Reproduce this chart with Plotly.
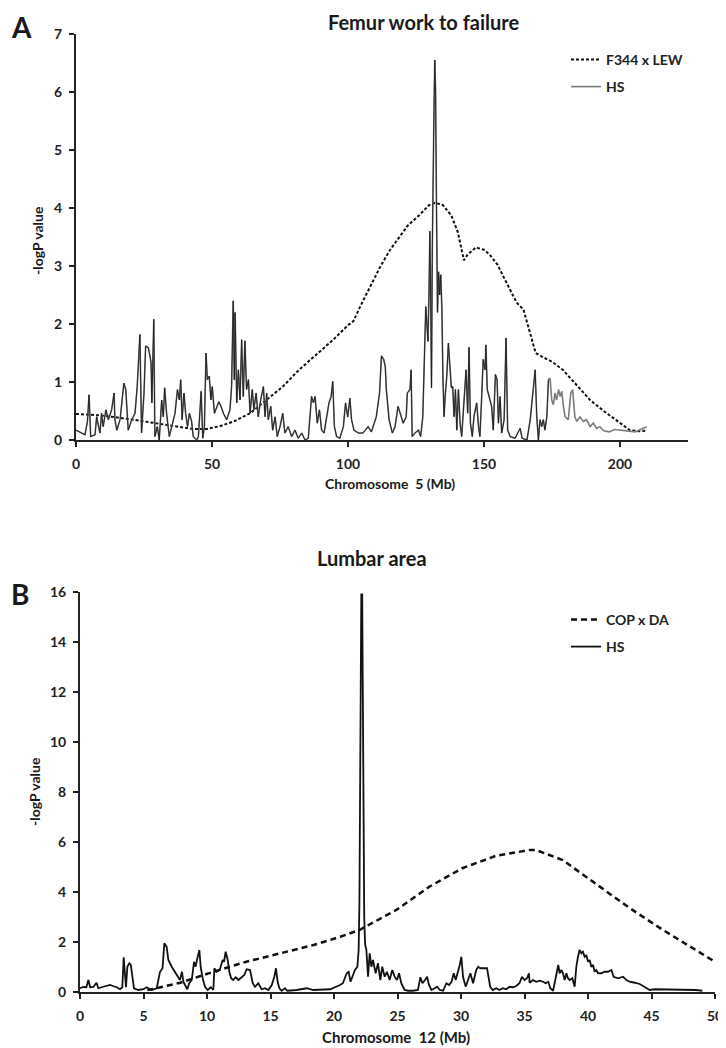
import plotly.graph_objects as go

FONT = "Lato"

# ---------------- Panel A data: Chromosome 5 ----------------
hs5_x = [0, 1.5, 3.3, 4.2, 4.8, 5.4, 7, 7.6, 8.8, 9.4, 10, 11, 11.9, 13.1, 14, 14.3, 15, 16.2, 17.6, 18.3,
         18.9, 19.2, 20.5, 21.7, 22.5, 23.5, 24.1, 25, 25.6, 26.6, 27.2, 27.6, 27.9, 28.6, 29, 29.9, 30.6,
         31.5, 32.1, 32.6, 33.3, 34.3, 35.2, 36.4, 37.3, 38, 38.5, 39, 39.7, 40.3, 41, 41.7, 42.5, 43.1,
         44.4, 45, 46, 46.6, 47.2, 47.8, 48.3, 49, 49.6, 50.1, 50.9, 51.7, 52.5, 53.3, 54.2, 55.4, 56.6,
         57.2, 57.8, 58.2, 58.5, 59.1, 59.7, 60.3, 60.9, 61.5, 62.1, 62.7, 63.4, 64, 64.8, 65.4, 66.2, 67,
         67.9, 68.9, 69.5, 70.1, 70.7, 71.6, 72.3, 73.2, 74, 75, 76, 76.8, 78, 79.3, 80.5, 81.7, 83, 84.2,
         85.4, 86.6, 87.3, 87.9, 88.7, 89.5, 90.3, 91.2, 92.2, 93, 93.8, 94.4, 95, 95.8, 97, 98.3, 99.1,
         99.9, 100.7, 101.3, 102.2, 103.8, 105.5, 107.4, 108.6, 110.4, 111.6, 112.3, 113.1, 113.7, 114.1,
         115.1, 116.3, 117.3, 118.4, 119.1, 120.3, 121.4, 121.8, 122.8, 123.2, 123.6, 124.6, 125.9, 126.7,
         127.5, 128.1, 128.6, 129.0, 129.4, 129.8, 130.1, 130.4, 130.7, 131.0, 131.3, 131.6, 131.9, 132.2,
         132.5, 132.9, 133.3, 133.7, 134.1, 134.5, 134.9, 135.3, 135.8, 136.3, 136.9, 137.5, 138.0, 138.5,
         139.0, 139.5, 140.0, 140.6, 141.2, 141.8, 142.4, 143.4, 144.0, 144.5, 145.0, 145.7, 146.3, 147.3,
         148.0, 148.5, 149.1, 149.7, 150.4, 150.7, 151.2, 151.9, 152.8, 153.4, 154.2, 154.8, 155.3, 155.9,
         156.5, 157.4, 158.1, 158.7, 159.6, 161.4, 162.0, 163.3, 164.0, 165.8, 167.0, 167.6, 168.2, 168.8,
         169.4, 170.0, 170.6, 171.2, 171.8, 172.4, 173.1, 173.7, 174.3, 174.9, 175.5, 176.1, 176.7, 177.4,
         178.0, 178.6, 179.2, 179.8, 181.0, 181.9, 182.6, 183.4, 184.1, 185.3, 186.5, 187.7, 189.0, 190.2,
         191.4, 192.6, 194, 196, 198, 200.7, 203, 205.6, 207.5, 209.8]
hs5_y = [0.17, 0.14, 0.09, 0.32, 0.78, 0.06, 0.09, 0.40, 0.12, 0.46, 0.23, 0.52, 0.35, 0.52, 0.81, 0.35, 0.17,
         0.35, 0.98, 0.87, 0.46, 0.17, 0.35, 0.46, 0.92, 1.82, 0.12, 0.81, 1.62, 1.59, 1.45, 1.33, 0.64, 2.08,
         0.06, 0.23, 0.0, 0.69, 0.40, 0.90, 0.46, 0.06, 0.23, 0.46, 0.87, 0.69, 1.04, 0.35, 0.81, 0.46, 0.23,
         0.46, 0.32, 0.06, 0.0, 0.06, 0.84, 0.03, 0.23, 1.50, 1.04, 1.10, 0.69, 0.92, 0.46, 0.58, 0.66, 0.58,
         0.46, 0.35, 0.52, 0.92, 2.40, 1.04, 2.20, 0.64, 1.21, 0.69, 1.73, 0.75, 1.71, 0.87, 1.04, 0.46, 0.87,
         0.52, 0.81, 0.40, 0.69, 0.92, 0.40, 0.81, 0.35, 0.58, 0.17, 0.40, 0.06, 0.23, 0.46, 0.12, 0.23, 0.06,
         0.17, 0.03, 0.12, 0.0, 0.03, 0.75, 0.64, 0.75, 0.29, 0.52, 0.17, 0.12, 0.40, 0.64, 0.75, 1.01, 0.23,
         0.06, 0.03, 0.23, 0.64, 0.40, 0.72, 0.35, 0.17, 0.12, 0.12, 0.23, 0.14, 0.40, 0.81, 1.45, 1.39, 1.27,
         0.87, 0.35, 0.12, 0.23, 0.58, 0.46, 0.29, 0.40, 0.81, 0.87, 1.21, 0.06, 0.12, 0.17, 0.06, 0.40, 1.50,
         2.30, 2.00, 1.70, 2.60, 3.60, 2.40, 0.90, 3.30, 5.30, 5.65, 6.55, 6.00, 4.20, 2.20, 2.90, 2.50, 2.85,
         2.30, 1.09, 0.40, 0.80, 1.09, 1.67, 1.21, 0.90, 0.92, 0.40, 0.87, 0.17, 0.87, 0.29, 0.06, 0.46, 1.21,
         0.46, 1.60, 0.29, 0.06, 0.40, 0.64, 0.23, 0.06, 0.69, 1.39, 1.21, 1.64, 0.87, 0.75, 0.58, 0.17, 1.13,
         1.04, 0.29, 0.75, 0.12, 0.35, 1.76, 0.17, 0.06, 0.03, 0.09, 0.20, 0.03, 0.0, 0.35, 0.64, 0.98, 1.21,
         0.40, 0.0, 0.35, 0.23, 0.35, 0.17, 0.40, 1.04, 1.07, 0.69, 0.61, 0.81, 0.69, 0.87, 0.75, 0.84, 0.58,
         0.40, 0.35, 0.81, 0.87, 0.40, 0.32, 0.40, 0.32, 0.35, 0.23, 0.29, 0.20, 0.23, 0.16, 0.14, 0.18, 0.17,
         0.15, 0.14, 0.18, 0.23]

f344_x = [0, 10, 21, 33, 43, 48, 53, 58, 64, 70, 76, 82, 88.5, 94.6, 100, 102, 105, 108, 112, 115.5, 118.5,
          122, 126.3, 129.8, 132, 134.9, 138, 140.4, 142.6, 144, 147, 150, 152, 155, 157, 160, 162, 164.5,
          167, 169, 172, 175, 179, 184, 189, 194, 198.5, 203.6, 207, 209.5]
f344_y = [0.45, 0.42, 0.35, 0.26, 0.19, 0.19, 0.24, 0.32, 0.46, 0.69, 0.92, 1.21, 1.47, 1.73, 1.98, 2.05, 2.35,
          2.62, 3.00, 3.28, 3.48, 3.70, 3.88, 4.05, 4.09, 4.05, 3.87, 3.58, 3.10, 3.20, 3.32, 3.28, 3.20, 3.02,
          2.83, 2.55, 2.37, 2.25, 1.85, 1.50, 1.42, 1.35, 1.21, 0.95, 0.69, 0.50, 0.35, 0.17, 0.15, 0.16]

markers5_x = [6.3, 42.6, 76.4, 100.3, 124.6, 137, 143, 151.5, 161.8, 172]

# ---------------- Panel B data: Chromosome 12 ----------------
hs12_x = [0, 0.26, 0.5, 0.66, 0.8, 1.05, 1.3, 1.44, 1.84, 2.36, 2.6, 2.9, 3.15, 3.33, 3.44, 3.54, 3.62, 3.73,
          3.88, 4.0, 4.15, 4.25, 4.6, 5.0, 5.25, 5.64, 6.04, 6.3, 6.5, 6.64, 6.82, 6.96, 7.22, 7.48, 7.7, 7.87,
          8.03, 8.14, 8.27, 8.45, 8.6, 8.8, 8.98, 9.1, 9.24, 9.4, 9.5, 9.66, 9.84, 10.05, 10.3, 10.5, 10.58,
          10.76, 11.0, 11.23, 11.34, 11.47, 11.63, 11.76, 11.9, 12.07, 12.26, 12.47, 12.73, 12.94, 13.12,
          13.39, 13.6, 13.78, 14.04, 14.3, 14.57, 14.83, 15.1, 15.3, 15.43, 15.56, 15.7, 15.88, 16.14, 16.33,
          17.06, 17.85, 18.37, 19.7, 20.47, 20.7, 21.0, 21.15, 21.3, 21.47, 21.65, 21.84, 21.94, 22.0, 22.08,
          22.15, 22.22, 22.3, 22.38, 22.45, 22.55, 22.68, 22.81, 22.94, 23.07, 23.28, 23.46, 23.65, 23.8,
          23.99, 24.17, 24.38, 24.59, 24.78, 24.96, 25.12, 25.3, 25.56, 25.83, 26.22, 26.61, 26.8, 26.96,
          27.17, 27.33, 27.48, 27.67, 27.93, 28.12, 28.33, 28.59, 28.85, 29.06, 29.25, 29.43, 29.58, 29.77,
          29.9, 30.03, 30.16, 30.37, 30.56, 30.74, 30.95, 31.2, 31.35, 31.53, 31.79, 32.05, 32.3, 32.5,
          32.77, 33.03, 33.3, 33.56, 33.82, 34.08, 34.35, 34.6, 34.8, 35.0, 35.2, 35.35, 35.4, 35.67, 35.93,
          36.2, 36.46, 36.67, 36.88, 37.03, 37.25, 37.4, 37.56, 37.66, 37.77, 37.9, 38.03, 38.16, 38.3,
          38.42, 38.56, 38.77, 38.95, 39.08, 39.21, 39.34, 39.48, 39.6, 39.74, 39.87, 40.0, 40.13, 40.26,
          40.4, 40.52, 40.65, 40.79, 41.05, 41.31, 41.57, 41.84, 42.02, 42.37, 42.76, 43.02, 43.28, 43.68,
          44.07, 44.33, 44.6, 44.86, 45.25, 45.9, 47.2, 48.5, 49.0]
hs12_y = [0.15, 0.20, 0.19, 0.48, 0.19, 0.20, 0.37, 0.15, 0.21, 0.28, 0.24, 0.19, 0.11, 0.19, 1.39, 0.61, 0.19,
          1.01, 1.15, 1.08, 0.48, 0.15, 0.08, 0.11, 0.19, 0.08, 0.15, 0.81, 0.95, 1.95, 1.81, 1.28, 1.01, 0.81,
          0.61, 0.48, 0.81, 0.41, 0.28, 0.11, 0.35, 0.48, 1.21, 1.01, 1.35, 1.68, 1.01, 0.55, 0.21, 0.08, 0.19,
          0.08, 0.95, 0.81, 0.88, 1.28, 1.21, 1.61, 1.28, 0.81, 0.55, 0.48, 0.59, 0.48, 0.59, 0.68, 0.91, 0.88,
          0.35, 0.21, 0.35, 0.11, 0.15, 0.08, 0.28, 0.61, 0.95, 0.41, 0.15, 0.05, 0.15, 0.05, 0.08, 0.15, 0.08,
          0.11, 0.28, 0.35, 0.75, 0.81, 0.41, 0.68, 0.88, 1.01, 1.68, 3.5, 9.0, 15.9, 15.9, 9.0, 3.0, 1.9, 1.68,
          0.61, 1.55, 1.01, 1.28, 0.75, 1.15, 0.48, 1.01, 0.61, 0.81, 0.48, 0.88, 0.61, 0.48, 0.75, 0.35, 0.08,
          0.05, 0.05, 0.08, 0.59, 0.35, 0.48, 0.61, 0.28, 0.08, 0.15, 0.21, 0.08, 0.05, 0.35, 0.28, 0.41, 0.75,
          0.48, 0.81, 1.08, 1.41, 0.61, 0.21, 0.48, 0.75, 0.35, 0.88, 1.01, 0.95, 0.95, 0.95, 0.21, 0.08, 0.15,
          0.08, 0.15, 0.11, 0.21, 0.19, 0.24, 0.35, 0.61, 0.48, 0.55, 0.75, 0.37, 0.48, 0.41, 0.45, 0.41, 0.35,
          0.41, 0.15, 0.05, 0.48, 0.88, 1.08, 0.75, 0.88, 0.75, 0.48, 0.75, 0.55, 0.48, 0.55, 0.21, 1.01, 1.41,
          1.68, 1.55, 1.61, 1.41, 1.48, 1.21, 1.28, 1.01, 1.08, 0.81, 0.88, 0.75, 0.75, 0.81, 0.81, 0.88, 0.61,
          0.55, 0.61, 0.48, 0.41, 0.37, 0.32, 0.24, 0.15, 0.08, 0.11, 0.11, 0.08, 0.08, 0.05]

cop_x = [5.3, 5.64, 7.9, 10.5, 13.1, 15.7, 18.4, 20.5, 22.0, 24.9, 27.5, 30.1, 32.7, 35.4, 35.9, 38.0, 40.6,
         43.3, 45.9, 48.5, 50.0]
cop_y = [0.08, 0.11, 0.37, 0.81, 1.21, 1.55, 1.88, 2.21, 2.48, 3.28, 4.21, 4.95, 5.44, 5.68, 5.68, 5.28, 4.35,
         3.35, 2.48, 1.68, 1.21]

markers12_x = [5.3, 15.4, 34.3, 44.5]

# The page body has an 8px margin, so the figure is placed 8px in from the top-left of the window.
OFF = 8
W, H = 726 - OFF, 1048 - OFF


def px(x):
    return (x - OFF) / W


def py(y):
    return 1 - (y - OFF) / H


fig = go.Figure()

# ---- Panel A traces ----
fig.add_trace(go.Scatter(x=f344_x, y=f344_y, mode="lines", name="F344 x LEW",
                         line=dict(color="#111111", width=2, dash="3px,2px"),
                         xaxis="x", yaxis="y", legend="legend", cliponaxis=False))
fig.add_trace(go.Scatter(x=hs5_x, y=hs5_y, mode="lines", name="HS",
                         line=dict(color="#7c7c7c", width=1.6),
                         xaxis="x", yaxis="y", legend="legend2"))
cut = next(i for i, v in enumerate(hs5_x) if v > 173.8)
fig.add_trace(go.Scatter(x=hs5_x[:cut], y=hs5_y[:cut], mode="lines", showlegend=False,
                         line=dict(color="#1c1c1c", width=0.9),
                         xaxis="x", yaxis="y"))
fig.add_trace(go.Scatter(x=markers5_x, y=[-0.12] * len(markers5_x), mode="markers", showlegend=False,
                         marker=dict(symbol="triangle-up", size=11, color="black"),
                         xaxis="x", yaxis="y", cliponaxis=False))

# ---- Panel B traces ----
fig.add_trace(go.Scatter(x=cop_x, y=cop_y, mode="lines", name="COP x DA",
                         line=dict(color="#111111", width=2.5, dash="6px,4px"),
                         xaxis="x2", yaxis="y2", legend="legend3", cliponaxis=False))
fig.add_trace(go.Scatter(x=hs12_x, y=hs12_y, mode="lines", name="HS",
                         line=dict(color="#111111", width=1.8),
                         xaxis="x2", yaxis="y2", legend="legend4", cliponaxis=False))
fig.add_trace(go.Scatter(x=markers12_x, y=[-0.28] * len(markers12_x), mode="markers", showlegend=False,
                         marker=dict(symbol="triangle-up", size=11, color="black"),
                         xaxis="x2", yaxis="y2", cliponaxis=False))

tickfont = dict(family=FONT, size=14, color="#222222", weight="bold")
axis_common = dict(showline=True, linecolor="#222222", linewidth=2, ticks="outside", ticklen=5,
                   tickwidth=1.5, tickcolor="#222222", showgrid=False, zeroline=False, tickfont=tickfont,
                   automargin=False)

legend_common = dict(xanchor="left", yanchor="middle", bgcolor="rgba(0,0,0,0)", itemwidth=30,
                     font=dict(family=FONT, size=14, color="#222222", weight="bold"))

fig.update_layout(
    template="none",
    width=W, height=H, margin=dict(l=0, r=0, t=0, b=0, autoexpand=False),
    paper_bgcolor="white", plot_bgcolor="white",
    showlegend=True,
    xaxis=dict(domain=[px(76), px(688)], range=[0, 225], tickvals=[0, 50, 100, 150, 200],
               anchor="y", ticklabelstandoff=5, **axis_common),
    yaxis=dict(domain=[py(440), py(34)], range=[0, 7], dtick=1, anchor="x",
               ticklabelstandoff=4, **axis_common),
    xaxis2=dict(domain=[px(80), px(715)], range=[0, 50], dtick=5, anchor="y2",
                ticklabelstandoff=5, **axis_common),
    yaxis2=dict(domain=[py(992), py(592)], range=[0, 16], dtick=2, anchor="x2",
                ticklabelstandoff=4, **axis_common),
    legend=dict(x=px(566), y=py(60), **legend_common),
    legend2=dict(x=px(566), y=py(87), **legend_common),
    legend3=dict(x=px(566), y=py(620), **legend_common),
    legend4=dict(x=px(566), y=py(647), **legend_common),
)

ann_font = dict(family=FONT, color="#1a1a1a", weight="bold")
annotations = [
    dict(text="A", x=px(9), y=py(27), xanchor="left", font=dict(size=28, **ann_font)),
    dict(text="B", x=px(9), y=py(594), xanchor="left", font=dict(size=28, **ann_font)),
    dict(text="Femur work to failure", x=px(424), y=py(22), font=dict(size=20, **ann_font)),
    dict(text="Lumbar area", x=px(372), y=py(558), font=dict(size=20, **ann_font)),
    dict(text="-logP value", x=px(38), y=py(241), textangle=-90, font=dict(size=14, **ann_font)),
    dict(text="-logP value", x=px(34), y=py(792), textangle=-90, font=dict(size=14, **ann_font)),
    dict(text="Chromosome  5 (Mb)", x=px(390), y=py(484), font=dict(size=14, **ann_font)),
    dict(text="Chromosome  12 (Mb)", x=px(396), y=py(1037), font=dict(size=15, **ann_font)),
]
for a in annotations:
    a.setdefault("xanchor", "center")
    a.update(xref="paper", yref="paper", showarrow=False, yanchor="middle")
fig.update_layout(annotations=annotations)

fig.write_html("out.html")
